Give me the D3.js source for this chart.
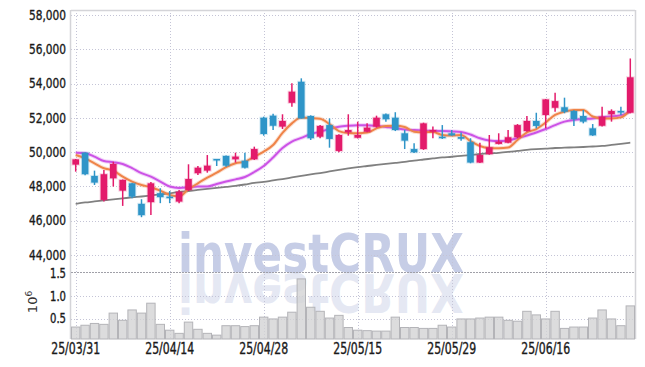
<!DOCTYPE html>
<html>
<head>
<meta charset="utf-8">
<script src="https://cdn.jsdelivr.net/npm/d3@7"></script>
<style>
  body { margin: 0; background: #fff; }
  svg { display: block; font-family: 'Liberation Sans Narrow', 'DejaVu Sans Condensed', sans-serif; }
  .lbl { fill: #1a1a1a; stroke: #1a1a1a; stroke-width: 0.35px; }
</style>
</head>
<body>
<div id="chart"></div>
<script>
// daily candles, 25/03/31 .. 25/06/27
const dates = [
  '25/03/31',
  '25/04/01', '25/04/02', '25/04/03', '25/04/04', '25/04/07', '25/04/08', '25/04/09', '25/04/10', '25/04/11',
  '25/04/14', '25/04/15', '25/04/16', '25/04/17', '25/04/18', '25/04/21', '25/04/22', '25/04/23', '25/04/24', '25/04/25',
  '25/04/28', '25/04/29', '25/04/30',
  '25/05/02', '25/05/07', '25/05/08', '25/05/09', '25/05/12', '25/05/13', '25/05/14', '25/05/15', '25/05/16',
  '25/05/19', '25/05/20', '25/05/21', '25/05/22', '25/05/23', '25/05/26', '25/05/27', '25/05/28', '25/05/29', '25/05/30',
  '25/06/02', '25/06/04', '25/06/05', '25/06/09', '25/06/10', '25/06/11', '25/06/12', '25/06/13',
  '25/06/16', '25/06/17', '25/06/18', '25/06/19', '25/06/20', '25/06/23', '25/06/24', '25/06/25', '25/06/26', '25/06/27'
];

const open = [
  49270, 49970, 48610, 47210, 48470, 47750, 48180, 46980, 47080, 47600,
  47400, 47110, 47790, 48770, 48920, 49600, 49780, 49580, 49500, 49580,
  52010, 52130, 51490, 52880, 54110, 52110, 50900, 51580, 50070, 51160,
  50840, 51190, 51490, 52210, 52010, 51100, 50180, 50180, 51190, 50900,
  51100, 50880, 50580, 49390, 49880, 50480, 50550, 50870, 51230, 51820,
  52170, 52590, 52620, 52400, 52110, 51390, 51540, 52210, 52400, 52300
];
const high = [
  49600, 50000, 48920, 48960, 49440, 48400, 48200, 47250, 48260, 47890,
  47730, 47790, 49290, 49190, 49830, 49600, 49800, 49970, 49970, 50320,
  52070, 52240, 52210, 54020, 54310, 52150, 51580, 51970, 51050, 52210,
  51780, 51680, 52130, 52250, 52330, 51290, 50520, 51720, 51490, 51580,
  51290, 51140, 50810, 50550, 51000, 51100, 51290, 51640, 52110, 52300,
  53100, 53470, 53180, 52450, 52460, 51640, 52650, 52500, 52650, 55470
];
const low = [
  48860, 48650, 48080, 47110, 47990, 46860, 47310, 46200, 46330, 47020,
  47020, 47020, 47730, 48670, 48800, 49190, 49150, 49390, 49050, 49540,
  50960, 51290, 51350, 52650, 51950, 50710, 50810, 50260, 49990, 50960,
  50800, 51160, 51430, 51780, 51230, 50180, 49950, 50130, 50810, 50770,
  50950, 50670, 49350, 49370, 49850, 50450, 50520, 50810, 51190, 51390,
  51390, 52360, 52270, 51530, 51680, 50950, 51490, 51780, 52170, 52270
];
const close = [
  49580, 48710, 48220, 48710, 49310, 48380, 47400, 46320, 48180, 47370,
  47310, 47690, 48430, 49090, 49210, 49540, 49210, 49740, 49090, 50180,
  51060, 51540, 51820, 53530, 51970, 50810, 51530, 50770, 51000, 51290,
  51000, 51430, 52010, 51920, 51290, 50670, 49990, 51680, 51290, 50840,
  50980, 50780, 49390, 49830, 50280, 50610, 50870, 51580, 51820, 51530,
  53080, 52980, 52360, 51920, 51780, 50980, 52070, 52400, 52340, 54370
];
const volume = [
  310000, 350000, 390000, 370000, 620000, 460000, 690000, 620000, 840000, 370000,
  240000, 170000, 420000, 260000, 170000, 130000, 340000, 340000, 320000, 340000,
  530000, 490000, 530000, 640000, 1380000, 750000, 660000, 510000, 570000, 300000,
  240000, 230000, 220000, 220000, 530000, 300000, 300000, 280000, 280000, 350000,
  310000, 490000, 490000, 510000, 530000, 530000, 460000, 440000, 660000, 580000,
  490000, 660000, 280000, 310000, 310000, 510000, 690000, 490000, 340000, 780000
];

// moving averages as drawn on the chart
const ma5 = [
  49830, 49640, 49350, 49060, 48920, 48570, 48280, 48080, 47950, 47750,
  47500, 47420, 47830, 48180, 48510, 48800, 49120, 49350, 49440, 49740,
  50030, 50420, 51120, 51680, 52020, 51990, 51950, 51640, 51230, 51120,
  51100, 51140, 51390, 51530, 51540, 51470, 51190, 51160, 51180, 51000,
  50970, 51000, 50650, 50360, 50240, 50230, 50270, 50710, 51150, 51350,
  51730, 52170, 52370, 52460, 52460, 52080, 51970, 51970, 52030, 52460
];
const ma20 = [
  49970, 49930, 49740, 49480, 49410, 49310, 49060, 48770, 48570, 48280,
  47990, 47910, 47950, 47990, 47990, 48140, 48280, 48410, 48550, 48840,
  49190, 49690, 50240, 50620, 50830, 51060, 51190, 51350, 51480, 51540,
  51570, 51570, 51530, 51470, 51410, 51320, 51290, 51260, 51230, 51230,
  51210, 51180, 51030, 50810, 50680, 50650, 50680, 50830, 50970, 51150,
  51350, 51580, 51780, 51880, 51930, 51970, 52050, 52090, 52150, 52370
];
const ma60 = [
  46980, 47060, 47120, 47180, 47240, 47300, 47360, 47410, 47470, 47530,
  47590, 47680, 47730, 47790, 47850, 47910, 47970, 48030, 48110, 48200,
  48260, 48350, 48430, 48520, 48610, 48700, 48780, 48870, 48960, 49050,
  49130, 49190, 49250, 49310, 49370, 49430, 49510, 49570, 49630, 49690,
  49730, 49780, 49830, 49890, 49930, 49960, 50010, 50070, 50130, 50170,
  50200, 50240, 50260, 50280, 50300, 50330, 50360, 50420, 50480, 50550
];

const xTickLabels = ['25/03/31', '25/04/14', '25/04/28', '25/05/15', '25/05/29', '25/06/16'];
const priceTicks = [44000, 46000, 48000, 50000, 52000, 54000, 56000, 58000];
const volumeTicks = [500000, 1000000, 1500000];

const W = 645, H = 367;
const left = 71, right = 635;
const priceTop = 10, priceBottom = 272;
const volTop = 272, volBottom = 339;

const red = '#e31b6b', blue = '#2f95c8';

const svg = d3.select('#chart').append('svg')
    .attr('width', W)
    .attr('height', H);

const x = d3.scaleBand()
    .domain(dates)
    .range([left, right])
    .paddingInner(0)
    .paddingOuter(0);
const cx = d => x(d) + x.bandwidth() / 2;

const yPrice = d3.scaleLinear().domain([43000, 58300]).range([priceBottom, priceTop]);
const yVol = d3.scaleLinear().domain([0, 1500000]).range([341, 273.5]);

// watermark + reflection
const wm = svg.append('g').attr('class', 'watermark')
    .style('font-family', "'DejaVu Sans', sans-serif")
    .style('font-weight', 'bold').style('font-size', '53px');
wm.append('text')
    .attr('x', 178).attr('y', 272)
    .attr('textLength', 286).attr('lengthAdjust', 'spacingAndGlyphs')
    .attr('fill', '#c6cde6')
    .text('investCRUX');
wm.append('text')
    .attr('transform', 'translate(0,546) scale(1,-1)')
    .attr('x', 178).attr('y', 272)
    .attr('textLength', 286).attr('lengthAdjust', 'spacingAndGlyphs')
    .attr('fill', '#c6cde6').attr('opacity', 0.45)
    .text('investCRUX');

// grid
const grid = svg.append('g').attr('class', 'grid')
    .attr('stroke', '#c4c4d6').attr('stroke-width', 1).attr('stroke-dasharray', '1,2');
grid.selectAll('line.h')
    .data(priceTicks)
    .join('line')
    .attr('x1', left).attr('x2', right)
    .attr('y1', d => Math.round(yPrice(d)) + 0.5)
    .attr('y2', d => Math.round(yPrice(d)) + 0.5);
grid.selectAll('line.v')
    .data(xTickLabels)
    .join('line')
    .attr('class', 'v')
    .attr('x1', d => Math.round(cx(d)) + 0.5).attr('x2', d => Math.round(cx(d)) + 0.5)
    .attr('y1', priceTop).attr('y2', volBottom);
grid.selectAll('line.vh')
    .data(volumeTicks.slice(0, 2))
    .join('line')
    .attr('class', 'vh')
    .attr('x1', left).attr('x2', right)
    .attr('y1', d => Math.round(yVol(d)) + 0.5)
    .attr('y2', d => Math.round(yVol(d)) + 0.5);

// frame
svg.append('line')
    .attr('x1', left).attr('x2', right).attr('y1', priceTop + 0.5).attr('y2', priceTop + 0.5)
    .attr('stroke', '#d4d4d8').attr('stroke-width', 1.5);
svg.append('line')
    .attr('x1', left - 0.5).attr('x2', left - 0.5).attr('y1', priceTop).attr('y2', volBottom)
    .attr('stroke', '#d4d4d8').attr('stroke-width', 1.5);
svg.append('line')
    .attr('x1', right + 0.5).attr('x2', right + 0.5).attr('y1', priceTop).attr('y2', volBottom)
    .attr('stroke', '#d4d4d8').attr('stroke-width', 1.5);
svg.append('line')
    .attr('x1', left).attr('x2', right).attr('y1', priceBottom + 0.5).attr('y2', priceBottom + 0.5)
    .attr('stroke', '#a0a0a8').attr('stroke-width', 1).attr('stroke-dasharray', '2,1');

// volume bars
svg.append('g').selectAll('rect')
    .data(dates)
    .join('rect')
    .attr('x', d => x(d) + 0.5)
    .attr('y', (d, i) => yVol(volume[i]))
    .attr('width', x.bandwidth() - 1)
    .attr('height', (d, i) => volBottom - yVol(volume[i]))
    .attr('fill', '#d3d3d5').attr('fill-opacity', 0.8)
    .attr('stroke', '#b4b4b8').attr('stroke-width', 1);

// moving averages
const lineOf = arr => d3.line()
    .x((d, i) => cx(dates[i]))
    .y(d => yPrice(d))
    .curve(d3.curveMonotoneX)(arr);

svg.append('path').attr('d', lineOf(ma60))
    .attr('fill', 'none').attr('stroke', '#808080').attr('stroke-width', 1.8);
[[ma20, '#cc52e6'], [ma5, '#ef8449']].forEach(([arr, col]) => {
    svg.append('path').attr('d', lineOf(arr))
        .attr('fill', 'none').attr('stroke', col).attr('stroke-opacity', 0.25).attr('stroke-width', 4);
    svg.append('path').attr('d', lineOf(arr))
        .attr('fill', 'none').attr('stroke', col).attr('stroke-width', 2);
});

// candles
const bw = 6.6;
const candles = svg.append('g').selectAll('g')
    .data(dates)
    .join('g');
candles.append('line')
    .attr('x1', d => cx(d)).attr('x2', d => cx(d))
    .attr('y1', (d, i) => yPrice(high[i]))
    .attr('y2', (d, i) => yPrice(low[i]))
    .attr('stroke', (d, i) => close[i] >= open[i] ? red : blue)
    .attr('stroke-width', 1.5);
candles.append('rect')
    .attr('x', d => cx(d) - bw / 2)
    .attr('y', (d, i) => yPrice(Math.max(open[i], close[i])))
    .attr('width', bw)
    .attr('height', (d, i) => Math.max(1.5, Math.abs(yPrice(open[i]) - yPrice(close[i]))))
    .attr('fill', (d, i) => close[i] >= open[i] ? red : blue)
    .attr('stroke', (d, i) => close[i] >= open[i] ? red : blue)
    .attr('stroke-opacity', 0.2).attr('stroke-width', 2);

// axes labels
svg.append('g').selectAll('text')
    .data(priceTicks)
    .join('text')
    .attr('class', 'lbl')
    .attr('x', 66).attr('y', d => yPrice(d))
    .attr('dy', '0.36em').attr('text-anchor', 'end')
    .attr('textLength', 37).attr('lengthAdjust', 'spacingAndGlyphs')
    .style('font-size', '13.5px')
    .text(d => d3.format(',')(d));

svg.append('g').selectAll('text')
    .data(volumeTicks)
    .join('text')
    .attr('class', 'lbl')
    .attr('x', 66).attr('y', d => yVol(d))
    .attr('dy', '0.36em').attr('text-anchor', 'end')
    .attr('textLength', 16).attr('lengthAdjust', 'spacingAndGlyphs')
    .style('font-size', '13.5px')
    .text(d => d3.format('.1f')(d / 1e6));

const unit = svg.append('text')
    .attr('transform', 'translate(37,302) rotate(-90)')
    .attr('text-anchor', 'middle')
    .attr('fill', '#333').style('font-size', '13px')
    .style('font-family', "'DejaVu Sans', sans-serif");
unit.append('tspan').text('10');
unit.append('tspan').attr('dy', -5).style('font-size', '9px').text('6');

svg.append('g').selectAll('text')
    .data(xTickLabels)
    .join('text')
    .attr('class', 'lbl')
    .attr('x', d => cx(d)).attr('y', 354)
    .attr('text-anchor', 'middle')
    .attr('textLength', 49).attr('lengthAdjust', 'spacingAndGlyphs')
    .style('font-size', '15px')
    .text(d => d);
</script>
</body>
</html>
